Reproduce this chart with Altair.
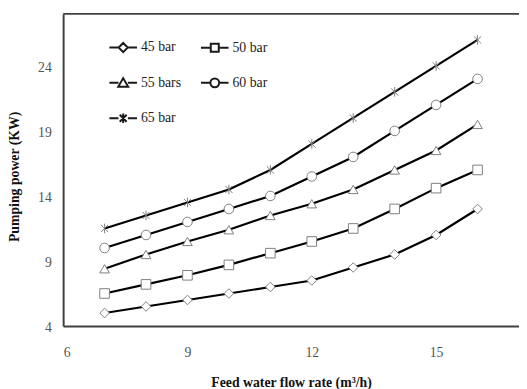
import altair as alt
import pandas as pd

flow = [7, 8, 9, 10, 11, 12, 13, 14, 15, 16]
p45 = [5.0, 5.5, 6.0, 6.5, 7.0, 7.5, 8.5, 9.5, 11.0, 13.0]
p50 = [6.5, 7.2, 7.9, 8.7, 9.6, 10.5, 11.5, 13.0, 14.6, 16.0]
p55 = [8.4, 9.5, 10.5, 11.4, 12.5, 13.4, 14.5, 16.0, 17.5, 19.5]
p60 = [10.0, 11.0, 12.0, 13.0, 14.0, 15.5, 17.0, 19.0, 21.0, 23.0]
p65 = [11.5, 12.5, 13.5, 14.5, 16.0, 18.0, 20.0, 22.0, 24.0, 26.0]
series = ["45 bar", "50 bar", "55 bars", "60 bar", "65 bar"]
x_ticks = [6, 9, 12, 15]
y_ticks = [4, 9, 14, 19, 24]

rows = []
for name, vals in zip(series, [p45, p50, p55, p60, p65]):
    for f, v in zip(flow, vals):
        rows.append({"flow": f, "power": v, "series": name, "lg": name})
df = pd.DataFrame(rows)

FONT = "Liberation Serif"
STAR = "M-0.75,-0.75L0.75,0.75M0.75,-0.75L-0.75,0.75M0,-1L0,1"
point_shapes = ["diamond", "square", "triangle-up", "circle", STAR]

STUB = "M-1,0L-0.34,0M0.34,0L1,0"
legend_marks = {
    "45 bar": "M0,-0.33L0.33,0L0,0.33L-0.33,0Z",
    "50 bar": "M-0.29,-0.29L0.29,-0.29L0.29,0.29L-0.29,0.29Z",
    "55 bars": "M0,-0.34L0.36,0.29L-0.36,0.29Z",
    "60 bar": "M-0.32,0A0.32,0.32,0,1,0,0.32,0A0.32,0.32,0,1,0,-0.32,0Z",
    "65 bar": "M-0.25,-0.25L0.25,0.25M0.25,-0.25L-0.25,0.25M0,-0.34L0,0.34",
}
# legend is filled column by column: order entries so rows read 45|50, 55|60, 65
legend_order = ["45 bar", "55 bars", "65 bar", "50 bar", "60 bar"]
legend_paths = [STUB + legend_marks[s] for s in legend_order]

W, H = 463, 317

x = alt.X("flow:Q", scale=alt.Scale(domain=[6, 17], nice=False, zero=False),
          axis=alt.Axis(values=x_ticks, title="Feed water flow rate (m³/h)",
                        grid=False, ticks=False, labelPadding=20,
                        titleY=57, titleBaseline="middle"))
y = alt.Y("power:Q", scale=alt.Scale(domain=[4, 28], nice=False, zero=False),
          axis=alt.Axis(values=y_ticks, title="Pumping power (KW)", grid=False,
                        ticks=False, labelPadding=12, labelOffset=2,
                        titleX=-49, titleY=165, titleAngle=270,
                        titleAlign="center", titleBaseline="middle"))

base = alt.Chart(df)

lines = base.mark_line(color="black", strokeWidth=2.2).encode(
    x=x, y=y, detail="series:N")

points = base.mark_point(filled=True, fill="white", stroke="#7f7f7f",
                         strokeWidth=1, size=95, opacity=1).encode(
    x=x, y=y,
    shape=alt.Shape("series:N", scale=alt.Scale(domain=series, range=point_shapes),
                    legend=None))

# legend-only layer: no rows pass the filter, the legend comes from the scale domain
legend_layer = base.transform_filter("datum.flow < 0").mark_point(
    filled=False, stroke="#1a1a1a", strokeWidth=2, size=784).encode(
    x=x, y=y,
    shape=alt.Shape("lg:N", scale=alt.Scale(domain=legend_order, range=legend_paths),
                    legend=alt.Legend(orient="none", legendX=46, legendY=19,
                                      columns=2, columnPadding=16, rowPadding=12,
                                      symbolSize=784, title=None,
                                      symbolStrokeColor="#1a1a1a",
                                      symbolStrokeWidth=2, symbolOpacity=1,
                                      labelFont=FONT, labelFontSize=14,
                                      labelOffset=3, padding=0,
                                      labelColor="#222222")))

top_rule = alt.Chart(pd.DataFrame({"v": [0]})).mark_rule(
    color="#404040", strokeWidth=2).encode(
    x=alt.value(0), x2=alt.value(W), y=alt.value(0))

chart = alt.layer(lines, points, legend_layer, top_rule).resolve_scale(
    shape="independent").resolve_legend(shape="independent").properties(
    width=W, height=H,
    autosize=alt.AutoSizeParams(type="none"),
    padding={"left": 56, "top": 3, "right": 0, "bottom": 61},
).configure_view(stroke=None).configure_axis(
    labelFont=FONT, labelFontSize=14, labelColor="#555555",
    titleFont=FONT, titleFontSize=14, titleFontWeight="bold", titleColor="#111111",
    domainColor="#404040", domainWidth=2,
)

chart.save("out.html", embed_options={"renderer": "svg", "actions": False})
